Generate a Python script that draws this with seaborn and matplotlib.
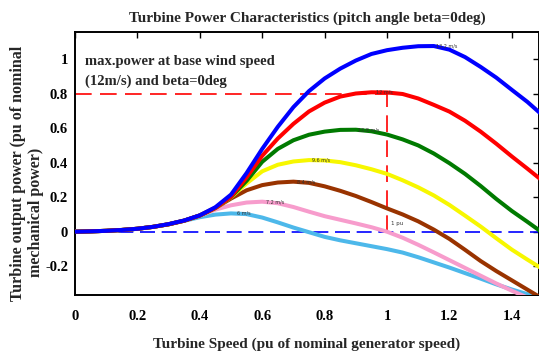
import matplotlib

matplotlib.use('Agg')
import matplotlib.pyplot as plt
import numpy as np
import pandas as pd
import seaborn as sns

# turbine speed (pu of nominal generator speed)
speed = [0.00, 0.05, 0.10, 0.15, 0.20, 0.25, 0.30, 0.35, 0.40, 0.45,
         0.50, 0.55, 0.60, 0.65, 0.70, 0.75, 0.80, 0.85, 0.90, 0.95,
         1.00, 1.05, 1.10, 1.15, 1.20, 1.25, 1.30, 1.35, 1.40, 1.45, 1.50]

# output power (pu) for each wind speed
p_6_0 = [0.000, 0.002, 0.005, 0.010, 0.017, 0.028, 0.043, 0.063, 0.084, 0.099,
         0.106, 0.102, 0.082, 0.054, 0.024, -0.003, -0.030, -0.050, -0.067, -0.084,
         -0.101, -0.121, -0.148, -0.178, -0.208, -0.240, -0.272, -0.305, -0.335, -0.362, -0.390]
p_7_2 = [0.000, 0.002, 0.005, 0.010, 0.017, 0.028, 0.043, 0.064, 0.093, 0.128,
         0.153, 0.169, 0.174, 0.165, 0.143, 0.116, 0.090, 0.069, 0.048, 0.026,
         0.000, -0.035, -0.076, -0.120, -0.165, -0.210, -0.255, -0.300, -0.342, -0.382, -0.420]
p_8_4 = [0.000, 0.002, 0.005, 0.010, 0.017, 0.028, 0.043, 0.064, 0.094, 0.137,
         0.192, 0.240, 0.270, 0.285, 0.290, 0.283, 0.263, 0.237, 0.207, 0.172,
         0.135, 0.100, 0.060, 0.012, -0.042, -0.105, -0.170, -0.228, -0.282, -0.336, -0.390]
p_9_6 = [0.000, 0.002, 0.005, 0.010, 0.017, 0.028, 0.043, 0.064, 0.094, 0.137,
         0.200, 0.280, 0.350, 0.388, 0.407, 0.415, 0.413, 0.403, 0.385, 0.362,
         0.335, 0.298, 0.257, 0.210, 0.155, 0.093, 0.030, -0.038, -0.104, -0.162, -0.218]
p_10_8 = [0.000, 0.002, 0.005, 0.010, 0.017, 0.028, 0.043, 0.064, 0.094, 0.138,
          0.202, 0.295, 0.405, 0.480, 0.530, 0.562, 0.580, 0.590, 0.591, 0.582,
          0.563, 0.535, 0.500, 0.453, 0.397, 0.335, 0.265, 0.190, 0.120, 0.057, -0.008]
p_12_0 = [0.000, 0.002, 0.005, 0.010, 0.017, 0.028, 0.043, 0.064, 0.094, 0.138,
          0.203, 0.315, 0.440, 0.540, 0.625, 0.697, 0.748, 0.783, 0.801, 0.808,
          0.807, 0.798, 0.772, 0.735, 0.696, 0.643, 0.580, 0.510, 0.436, 0.365, 0.292]
p_13_2 = [0.000, 0.002, 0.005, 0.010, 0.017, 0.028, 0.044, 0.065, 0.095, 0.142,
          0.215, 0.340, 0.480, 0.608, 0.722, 0.815, 0.888, 0.945, 0.992, 1.030,
          1.052, 1.066, 1.075, 1.076, 1.055, 1.012, 0.955, 0.893, 0.822, 0.752, 0.672]

wind_labels = ['6 m/s', '7.2 m/s', '8.4 m/s', '9.6 m/s', '10.8 m/s', '12 m/s', '13.2 m/s']
curves = [p_6_0, p_7_2, p_8_4, p_9_6, p_10_8, p_12_0, p_13_2]
colors = ['#4db8ea', '#f79ccc', '#993300', '#f7f700', '#007a00', '#ff0000', '#0000ff']

base_speed = 1.0
base_power = 0.8

df = pd.concat([pd.DataFrame({'speed': speed, 'power': p, 'wind': w})
                for p, w in zip(curves, wind_labels)], ignore_index=True)

sns.set_style('white')
plt.rcParams['font.family'] = ['Liberation Serif', 'DejaVu Serif']
plt.rcParams['font.weight'] = 'bold'

fig = plt.figure(figsize=(5.39, 3.56), dpi=100)
ax = fig.add_axes([0.1391, 0.1713, 0.8609, 0.7396])

ax.axhline(0, color='#0000ff', lw=1.2, ls=(0, (9, 4)), zorder=1)
ax.hlines(base_power, 0, base_speed, color='#ff0000', lw=1.2, ls=(0, (10, 5)), zorder=1)
ax.vlines(base_speed, 0, base_power, color='#ff0000', lw=1.2, ls=(0, (10, 5)), zorder=1)

sns.lineplot(data=df, x='speed', y='power', hue='wind', hue_order=wind_labels,
             palette=colors, lw=2.9, legend=False, ax=ax, zorder=3)

# tiny wind speed labels near each peak
for p, w in zip(curves, wind_labels):
    i = int(np.argmax(p))
    ax.text(speed[i] + 0.04, p[i], w, fontsize=3.5, ha='center', va='center',
            color='#333333', family='DejaVu Sans', fontweight='normal', zorder=4)
ax.text(base_speed + 0.012, 0.045, '1 pu', fontsize=4, ha='left', va='center',
        color='#333333', family='DejaVu Sans', fontweight='normal', zorder=4)

ax.text(0.022, 0.912, 'max.power at base wind speed\n(12m/s) and beta=0deg',
        transform=ax.transAxes, fontsize=10.5, fontweight='bold', va='top', ha='left',
        linespacing=1.6)

ax.set_xlim(0, 1.487)
ax.set_ylim(-0.367, 1.159)
ax.set_xticks([0, 0.2, 0.4, 0.6, 0.8, 1.0, 1.2, 1.4])
ax.set_xticklabels(['0', '0.2', '0.4', '0.6', '0.8', '1', '1.2', '1.4'])
ax.set_yticks([-0.2, 0, 0.2, 0.4, 0.6, 0.8, 1.0])
ax.set_yticklabels(['-0.2', '0', '0.2', '0.4', '0.6', '0.8', '1'])
ax.tick_params(direction='in', length=4, width=1, top=True, right=True,
               labelsize=10.5, colors='black')
ax.tick_params(axis='x', pad=11)
ax.tick_params(axis='y', pad=5)
for s in ax.spines.values():
    s.set_color('black')
    s.set_linewidth(1.4)

ax.set_title('Turbine Power Characteristics (pitch angle beta=0deg)',
             fontsize=11, fontweight='bold', pad=7)
ax.set_xlabel('Turbine Speed (pu of nominal generator speed)', fontsize=11,
              fontweight='bold', labelpad=10)
ax.set_ylabel('')
fig.text(0.033, 0.513, 'Turbine output power (pu of nominal', rotation=90,
         fontsize=11.5, fontweight='bold', ha='center', va='center')
fig.text(0.066, 0.404, 'mechanical power)', rotation=90,
         fontsize=11.5, fontweight='bold', ha='center', va='center')

fig.savefig('out.png', dpi=100)
